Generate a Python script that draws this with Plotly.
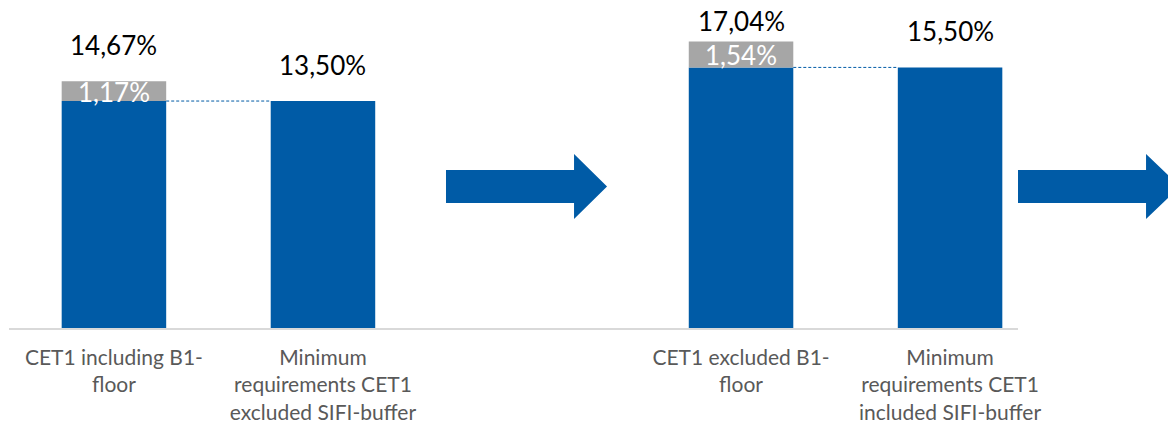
import plotly.graph_objects as go

categories = ["CET1 including B1-<br>floor",
              "Minimum<br>requirements CET1<br>excluded SIFI-buffer",
              "",
              "CET1 excluded B1-<br>floor",
              "Minimum<br>requirements CET1<br>included SIFI-buffer"]
positions = [0, 1, 2, 3, 4]
base_values = [13.50, 13.50, None, 15.50, 15.50]
floor_add = [1.17, 0, None, 1.54, 0]

BLUE = "#005BA6"
GRAY = "#A6A6A6"
FONT = "Lato, Open Sans, sans-serif"
Y_MAX = 19.51
PLOT_H = 328

def fmt(v):
    return f"{v:.2f}%".replace(".", ",")

fig = go.Figure()
bx = [p for p, b in zip(positions, base_values) if b is not None]
by = [b for b in base_values if b is not None]
fig.add_trace(go.Bar(x=bx, y=by, width=0.5, marker=dict(color=BLUE, line=dict(width=0)),
                     hoverinfo="skip"))
gx = [p for p, a in zip(positions, floor_add) if a]
gy = [a for a in floor_add if a]
gb = [b for b, a in zip(base_values, floor_add) if a]
fig.add_trace(go.Bar(x=gx, y=gy, base=gb, width=0.5, marker=dict(color=GRAY, line=dict(width=0)),
                     hoverinfo="skip"))

# dashed connectors between bar pairs
for i in range(len(positions) - 1):
    a, b = base_values[i], base_values[i + 1]
    if a is not None and b is not None and floor_add[i]:
        fig.add_trace(go.Scatter(x=[positions[i] + 0.25, positions[i + 1] - 0.25], y=[a, a],
                                 mode="lines", line=dict(color=BLUE, width=1, dash="3px,2px"),
                                 hoverinfo="skip"))

pxu = PLOT_H / Y_MAX
annotations = []
for p, b, a in zip(positions, base_values, floor_add):
    if b is None:
        continue
    total = b + (a or 0)
    top_px = (Y_MAX - total) * pxu
    center_px = max(top_px - 36, 21)
    annotations.append(dict(x=p, y=total, text=fmt(total), showarrow=False,
                            yanchor="middle", yshift=top_px - center_px,
                            font=dict(family=FONT, size=26, color="#000000")))
    if a:
        annotations.append(dict(x=p, y=b + a / 2, text=fmt(a), showarrow=False,
                                yanchor="middle", yshift=-1,
                                font=dict(family=FONT, size=26, color="#FFFFFF")))

# arrows (decorative), in paper coordinates
def arrow(x0, x1, xh, ys0, ys1, yh0, yh1, ytip):
    return (f"M {x0} {ys0} L {xh} {ys0} L {xh} {yh0} L {x1} {ytip} L {xh} {yh1} "
            f"L {xh} {ys1} L {x0} {ys1} Z")

shapes = [
    dict(type="path", xref="paper", yref="paper",
         path=arrow(0.4331, 0.5927, 0.5600, 0.4817, 0.3811, 0.5305, 0.3323, 0.4314),
         fillcolor=BLUE, line=dict(width=0), layer="above"),
    dict(type="path", xref="paper", yref="paper",
         path=arrow(1.0, 1.1605, 1.1269, 0.4817, 0.3811, 0.5305, 0.3323, 0.4314),
         fillcolor=BLUE, line=dict(width=0), layer="above"),
]

fig.update_layout(
    width=1168, height=428,
    margin=dict(l=9, r=150, t=0, b=100),
    paper_bgcolor="white", plot_bgcolor="white",
    showlegend=False, barmode="overlay",
    annotations=annotations, shapes=shapes,
    xaxis=dict(range=[-0.502, 4.325], tickvals=positions, ticktext=categories,
               showgrid=False, zeroline=False, showline=True, linecolor="#D9D9D9",
               linewidth=1.5, ticks="", ticklabelstandoff=10,
               tickfont=dict(family=FONT, size=21, color="#595959")),
    yaxis=dict(range=[0, Y_MAX], visible=False, showgrid=False, zeroline=False),
)

fig.write_html("out.html", config={"displayModeBar": False},
               post_script="document.body.style.margin='0';")
